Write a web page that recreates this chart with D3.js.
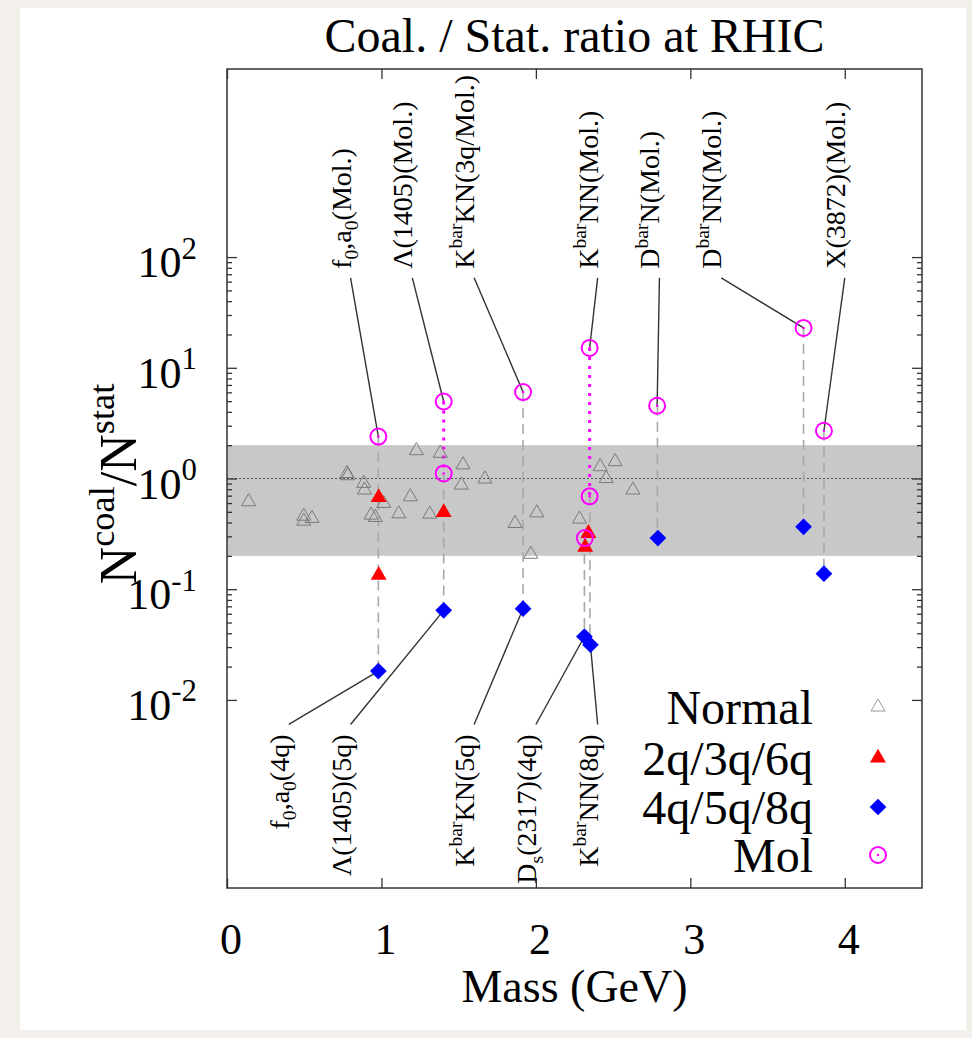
<!DOCTYPE html>
<html><head><meta charset="utf-8">
<script src="https://cdn.jsdelivr.net/npm/d3@7"></script>
<style>
html,body{margin:0;padding:0;background:#f3f0eb;}
svg{display:block;}
text{font-family:"Liberation Serif","Times New Roman",serif;fill:#000;}
</style></head><body>
<svg id="chart" width="972" height="1038"></svg>
<script>
// ---------- data ----------
const title = "Coal. / Stat. ratio at RHIC";
const xLabel = "Mass (GeV)";
const yLabel = "N^{coal}/N^{stat}";
const xDomain = [0, 4.5];
const yDomain = [2e-4, 5e3];
const xTickValues = [0, 1, 2, 3, 4];
const xTickLabels = ["0", "1", "2", "3", "4"];
const yTickValues = [1e-2, 1e-1, 1e0, 1e1, 1e2];
const yTickLabels = ["10^{-2}", "10^{-1}", "10^{0}", "10^{1}", "10^{2}"];
const bandRange = [0.2, 2];
const refValue = 1;

const normalMass  = [0.14, 0.497, 0.497, 0.55, 0.777, 0.782, 0.885, 0.89, 0.933, 0.96, 1.015, 1.112, 1.187, 1.226, 1.313, 1.381, 1.517, 1.528, 1.67, 1.865, 1.967, 2.006, 2.282, 2.416, 2.455, 2.513, 2.628];
const normalRatio = [0.617, 0.457, 0.412, 0.436, 1.11, 1.06, 0.905, 0.787, 0.467, 0.445, 0.596, 0.48, 0.684, 1.785, 0.477, 1.69, 0.873, 1.33, 0.99, 0.393, 0.207, 0.49, 0.43, 1.28, 1.0, 1.42, 0.787];

const multiMass  = [0.982, 0.982, 1.403, 2.319, 2.340];
const multiRatio = [0.675, 0.134, 0.494, 0.240, 0.320];

const exoticMass  = [0.98, 1.403, 1.917, 2.314, 2.353, 2.79, 3.733, 3.865];
const exoticRatio = [0.0182, 0.0644, 0.0667, 0.0374, 0.0315, 0.290, 0.366, 0.138];

const molMass  = [0.98, 1.403, 1.403, 1.917, 2.317, 2.348, 2.348, 2.785, 3.733, 3.865];
const molRatio = [2.39, 4.96, 1.11, 6.04, 0.29, 15.1, 0.69, 4.54, 22.9, 2.70];

const legendNames = ["Normal", "2q/3q/6q", "4q/5q/8q", "Mol"];

// grey dashed links between models of the same state
const linkMass = [0.98, 1.403, 1.917, 2.314, 2.35, 2.787, 3.733, 3.865];
const linkHigh = [2.39, 1.11, 6.04, 0.29, 0.69, 4.54, 22.9, 2.70];
const linkLow  = [0.0182, 0.0644, 0.0667, 0.0374, 0.0315, 0.290, 0.366, 0.138];
// magenta dotted links between two molecular estimates
const molLinkMass = [1.403, 2.348];
const molLinkHigh = [4.96, 15.1];
const molLinkLow  = [1.11, 0.69];

// annotations (anchored in data coordinates)
const topLabels = ["f_{0},a_{0}(Mol.)", "Λ(1405)(Mol.)", "K^{bar}KN(3q/Mol.)", "K^{bar}NN(Mol.)", "D^{bar}N(Mol.)", "D^{bar}NN(Mol.)", "X(3872)(Mol.)"];
const topLabelMass = [0.8, 1.2, 1.6, 2.4, 2.8, 3.2, 4.0];
const topLabelRatio = 65;
const topPointMass  = [0.98, 1.403, 1.917, 2.348, 2.785, 3.733, 3.865];
const topPointRatio = [2.39, 4.96, 6.04, 15.1, 4.54, 22.9, 2.70];

const bottomLabels = ["f_{0},a_{0}(4q)", "Λ(1405)(5q)", "K^{bar}KN(5q)", "D_{s}(2317)(4q)", "K^{bar}NN(8q)"];
const bottomLabelMass = [0.4, 0.8, 1.6, 2.0, 2.4];
const bottomLabelRatio = 0.006;
const bottomPointMass  = [0.98, 1.403, 1.917, 2.314, 2.353];
const bottomPointRatio = [0.0182, 0.0644, 0.0667, 0.0374, 0.0315];

// ---------- layout ----------
const L = 227, R = 922, T = 69, B = 888;
const svg = d3.select("#chart");
const x = d3.scaleLinear().domain(xDomain).range([L, R]);
const y = d3.scaleLog().domain(yDomain).range([B, T]);

function richText(sel, str, size) {
  const re = /([\^_])\{([^}]*)\}|([^\^_]+)/g;
  let m, shift = 0;
  while ((m = re.exec(str))) {
    let target = 0, content, fs = size;
    if (m[1]) { content = m[2]; fs = size * 0.7; target = m[1] === '^' ? -0.42 * size : 0.25 * size; }
    else content = m[3];
    sel.append("tspan").attr("font-size", fs).attr("dy", target - shift).text(content);
    shift = target;
  }
  return sel;
}

// page
svg.append("rect").attr("x", 0).attr("y", 0).attr("width", 972).attr("height", 1038).attr("fill", "#f3f0eb");
svg.append("rect").attr("x", 20).attr("y", 8).attr("width", 946).attr("height", 1022).attr("fill", "#fff");

// band and reference line
svg.append("rect").attr("x", L).attr("width", R - L)
  .attr("y", y(bandRange[1])).attr("height", y(bandRange[0]) - y(bandRange[1]))
  .attr("fill", "#c8c8c8");
svg.append("line").attr("x1", L).attr("x2", R).attr("y1", y(refValue)).attr("y2", y(refValue))
  .attr("stroke", "#555").attr("stroke-width", 1).attr("stroke-dasharray", "2,2");

// dashed links
svg.append("g").selectAll("line").data(linkMass).join("line")
  .attr("x1", d => x(d)).attr("x2", d => x(d))
  .attr("y1", (d, i) => y(linkHigh[i])).attr("y2", (d, i) => y(linkLow[i]))
  .attr("stroke", "#a8a8a8").attr("stroke-width", 1.6).attr("stroke-dasharray", "10,6");
// magenta dotted links
svg.append("g").selectAll("line").data(molLinkMass).join("line")
  .attr("x1", d => x(d)).attr("x2", d => x(d))
  .attr("y1", (d, i) => y(molLinkHigh[i])).attr("y2", (d, i) => y(molLinkLow[i]))
  .attr("stroke", "#ff00ff").attr("stroke-width", 3).attr("stroke-dasharray", "3,6");

// annotation lines
const ann = svg.append("g");
topLabelMass.forEach((m, i) => {
  ann.append("line").attr("x1", x(m)).attr("y1", y(topLabelRatio))
    .attr("x2", x(topPointMass[i])).attr("y2", y(topPointRatio[i]))
    .attr("stroke", "#333").attr("stroke-width", 1.4);
});
bottomLabelMass.forEach((m, i) => {
  ann.append("line").attr("x1", x(m)).attr("y1", y(bottomLabelRatio))
    .attr("x2", x(bottomPointMass[i])).attr("y2", y(bottomPointRatio[i]))
    .attr("stroke", "#333").attr("stroke-width", 1.4);
});

// markers
const triSmall = d3.symbol().type(d3.symbolTriangle).size(85)();
const triBig = d3.symbol().type(d3.symbolTriangle).size(110)();
const diamond = d3.symbol().type(d3.symbolSquare).size(140)();
function circleMarker(g) {
  g.append("circle").attr("r", 8).attr("fill", "none").attr("stroke", "#ff00ff").attr("stroke-width", 2);
  g.append("circle").attr("r", 1.3).attr("fill", "#ff00ff");
}

svg.append("g").selectAll("path").data(normalMass).join("path")
  .attr("d", triSmall).attr("transform", (d, i) => `translate(${x(d)},${y(normalRatio[i])})`)
  .attr("fill", "none").attr("stroke", "#7a7a7a").attr("stroke-width", 1);
svg.append("g").selectAll("path").data(multiMass).join("path")
  .attr("d", triBig).attr("transform", (d, i) => `translate(${x(d)},${y(multiRatio[i])})`)
  .attr("fill", "#ff0000");
svg.append("g").selectAll("path").data(exoticMass).join("path")
  .attr("d", diamond).attr("transform", (d, i) => `translate(${x(d)},${y(exoticRatio[i])}) rotate(45)`)
  .attr("fill", "#0000ff");
svg.append("g").selectAll("g").data(molMass).join("g")
  .attr("transform", (d, i) => `translate(${x(d)},${y(molRatio[i])})`)
  .each(function () { circleMarker(d3.select(this)); });

// annotation texts
topLabels.forEach((s, i) => {
  const t = svg.append("text").attr("font-size", 28).attr("text-anchor", "start")
    .attr("transform", `translate(${x(topLabelMass[i])},${y(topLabelRatio) - 9}) rotate(-90)`);
  t.append("tspan").attr("dy", "0.33em").text("");
  richText(t, s, 28);
});
bottomLabels.forEach((s, i) => {
  const t = svg.append("text").attr("font-size", 28).attr("text-anchor", "end")
    .attr("transform", `translate(${x(bottomLabelMass[i])},${y(bottomLabelRatio) + 10}) rotate(-90)`);
  t.append("tspan").attr("dy", "0.33em").text("");
  richText(t, s, 28);
});

// axes (ticks inward, mirrored)
const minorY = [];
for (let e = -2; e < 2; e++) for (let k = 2; k <= 9; k++) minorY.push(k * Math.pow(10, e));
function styleAxis(g) {
  g.select(".domain").remove();
  g.selectAll("line").attr("stroke", "#333").attr("stroke-width", 1.3);
  g.selectAll("text").remove();
}
svg.append("g").attr("transform", `translate(${L},0)`).call(d3.axisLeft(y).tickValues(yTickValues).tickSize(-10)).call(styleAxis);
svg.append("g").attr("transform", `translate(${L},0)`).call(d3.axisLeft(y).tickValues(minorY).tickSize(-5)).call(styleAxis);
svg.append("g").attr("transform", `translate(${R},0)`).call(d3.axisRight(y).tickValues(yTickValues).tickSize(-10)).call(styleAxis);
svg.append("g").attr("transform", `translate(${R},0)`).call(d3.axisRight(y).tickValues(minorY).tickSize(-5)).call(styleAxis);
svg.append("g").attr("transform", `translate(0,${B})`).call(d3.axisBottom(x).tickValues(xTickValues).tickSize(-10)).call(styleAxis);
svg.append("g").attr("transform", `translate(0,${T})`).call(d3.axisTop(x).tickValues(xTickValues).tickSize(-10)).call(styleAxis);
svg.append("rect").attr("x", L).attr("y", T).attr("width", R - L).attr("height", B - T)
  .attr("fill", "none").attr("stroke", "#333").attr("stroke-width", 1.5);

// tick labels
yTickValues.forEach((v, i) => {
  const t = svg.append("text").attr("x", 197).attr("y", y(v) + 20).attr("text-anchor", "end").attr("font-size", 44);
  richText(t, yTickLabels[i], 44);
});
xTickValues.forEach((v, i) => {
  svg.append("text").attr("x", x(v) + 4).attr("y", 954).attr("text-anchor", "middle").attr("font-size", 44).text(xTickLabels[i]);
});

// axis titles
svg.append("text").attr("x", (L + R) / 2).attr("y", 1002).attr("text-anchor", "middle").attr("font-size", 46).text(xLabel);
const yl = svg.append("text").attr("text-anchor", "middle").attr("font-size", 52)
  .attr("transform", `translate(136,484) rotate(-90)`);
richText(yl, yLabel, 52);
svg.append("text").attr("x", (L + R) / 2).attr("y", 52).attr("text-anchor", "middle").attr("font-size", 48).text(title);

// legend
const legY = [707, 758, 807, 855];
legendNames.forEach((n, i) => {
  svg.append("text").attr("x", 813).attr("y", legY[i]).attr("dy", "0.35em").attr("text-anchor", "end").attr("font-size", 48).text(n);
  const g = svg.append("g").attr("transform", `translate(878,${legY[i]})`);
  if (i === 0) g.append("path").attr("d", triSmall).attr("fill", "none").attr("stroke", "#9a9a9a").attr("stroke-width", 1);
  if (i === 1) g.append("path").attr("d", triBig).attr("fill", "#ff0000");
  if (i === 2) g.append("path").attr("d", diamond).attr("transform", "rotate(45)").attr("fill", "#0000ff");
  if (i === 3) circleMarker(g);
});
</script>
</body></html>
